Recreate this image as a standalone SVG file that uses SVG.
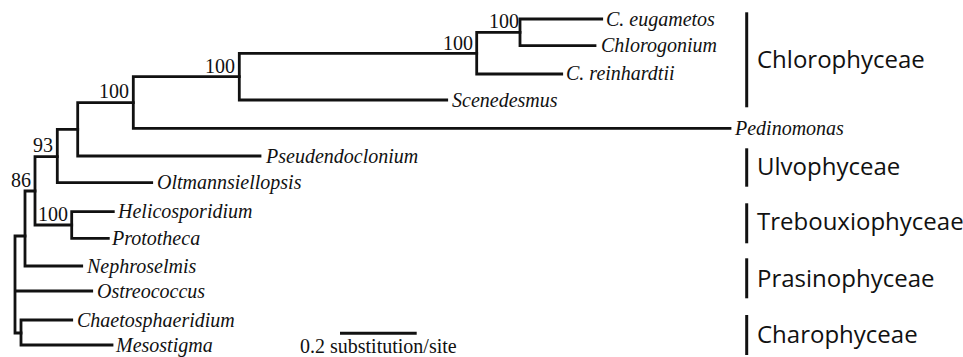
<svg xmlns="http://www.w3.org/2000/svg" width="963" height="357" viewBox="0 0 963 357">
<style>
  .br { fill: none; stroke: #111; stroke-width: 2.8; stroke-linejoin: miter; stroke-linecap: square; }
  .bar { stroke: #111; stroke-width: 3; }
  .tx { font-family: "Liberation Serif", "Times New Roman", serif; font-style: italic; font-size: 20px; fill: #111; }
  .bs { font-family: "Liberation Serif", "Times New Roman", serif; font-size: 20px; fill: #111; text-anchor: end; }
  .sc { font-family: "Liberation Serif", "Times New Roman", serif; font-size: 20px; fill: #111; }
  .cl { font-family: "Open Sans", "Noto Sans", sans-serif; font-size: 24px; fill: #111; }
</style>
<rect width="963" height="357" fill="#fff"/>
<g id="connectors">
  <path class="br" d="M15,236 V333 M15,236 H25 M15,291 H91.7 M15,333 H21"/>
  <path class="br" d="M21,320 V345 M21,320 H71.7 M21,345 H112"/>
  <path class="br" d="M25,191 V266 M25,191 H35 M25,266 H81.7"/>
  <path class="br" d="M35,156.7 V225 M35,156.7 H57.3 M35,225 H71.7"/>
  <path class="br" d="M71.7,211.7 V238.3 M71.7,211.7 H113.3 M71.7,238.3 H108.3"/>
  <path class="br" d="M57.3,129.3 V182.7 M57.3,129.3 H77.7 M57.3,182.7 H151.7"/>
  <path class="br" d="M77.7,102.7 V156 M77.7,102.7 H133.3 M77.7,156 H260"/>
  <path class="br" d="M133.3,76.7 V128.3 M133.3,76.7 H239.3 M133.3,128.3 H730"/>
  <path class="br" d="M239.3,53.3 V100 M239.3,53.3 H476.7 M239.3,100 H446.7"/>
  <path class="br" d="M476.7,32.3 V74 M476.7,32.3 H520 M476.7,74 H561.7"/>
  <path class="br" d="M520,19 V45.7 M520,19 H601.7 M520,45.7 H595"/>
</g>
<g id="support">
  <text class="bs" x="519" y="28">100</text>
  <text class="bs" x="473" y="50">100</text>
  <text class="bs" x="235" y="73">100</text>
  <text class="bs" x="129" y="98">100</text>
  <text class="bs" x="53" y="152">93</text>
  <text class="bs" x="31" y="187">86</text>
  <text class="bs" x="68" y="221">100</text>
</g>
<g id="leaf-c-eugametos"><text class="tx" x="606" y="25.5">C. eugametos</text></g>
<g id="leaf-chlorogonium"><text class="tx" x="601" y="52">Chlorogonium</text></g>
<g id="leaf-c-reinhardtii"><text class="tx" x="566" y="80">C. reinhardtii</text></g>
<g id="leaf-scenedesmus"><text class="tx" x="452" y="106.5">Scenedesmus</text></g>
<g id="leaf-pedinomonas"><text class="tx" x="735" y="134.5">Pedinomonas</text></g>
<g id="leaf-pseudendoclonium"><text class="tx" x="266" y="162.5">Pseudendoclonium</text></g>
<g id="leaf-oltmannsiellopsis"><text class="tx" x="157" y="189">Oltmannsiellopsis</text></g>
<g id="leaf-helicosporidium"><text class="tx" x="118" y="218">Helicosporidium</text></g>
<g id="leaf-prototheca"><text class="tx" x="112" y="244.5">Prototheca</text></g>
<g id="leaf-nephroselmis"><text class="tx" x="87" y="272.5">Nephroselmis</text></g>
<g id="leaf-ostreococcus"><text class="tx" x="97" y="297.5">Ostreococcus</text></g>
<g id="leaf-chaetosphaeridium"><text class="tx" x="77" y="326.5">Chaetosphaeridium</text></g>
<g id="leaf-mesostigma"><text class="tx" x="116" y="351.5">Mesostigma</text></g>
<g id="scale-bar">
  <line class="bar" x1="340" y1="333.3" x2="416.7" y2="333.3"/>
  <text class="sc" x="300" y="353">0.2 substitution/site</text>
</g>
<g id="clade-chlorophyceae">
  <line class="bar" x1="746.7" y1="12.3" x2="746.7" y2="107.3"/>
  <text class="cl" x="757" y="68">Chlorophyceae</text>
</g>
<g id="clade-ulvophyceae">
  <line class="bar" x1="746.7" y1="148.3" x2="746.7" y2="186.7"/>
  <text class="cl" x="757" y="175">Ulvophyceae</text>
</g>
<g id="clade-trebouxiophyceae">
  <line class="bar" x1="746.7" y1="203.3" x2="746.7" y2="243.3"/>
  <text class="cl" x="757" y="230">Trebouxiophyceae</text>
</g>
<g id="clade-prasinophyceae">
  <line class="bar" x1="746.7" y1="258.3" x2="746.7" y2="298.3"/>
  <text class="cl" x="757" y="286.5">Prasinophyceae</text>
</g>
<g id="clade-charophyceae">
  <line class="bar" x1="746.7" y1="315" x2="746.7" y2="355"/>
  <text class="cl" x="757" y="343">Charophyceae</text>
</g>
</svg>
